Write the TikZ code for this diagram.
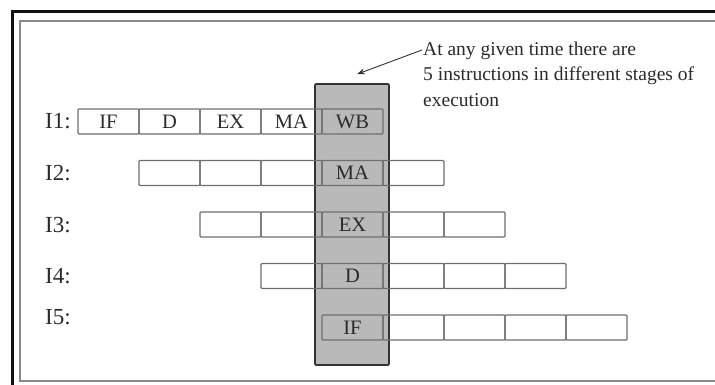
\documentclass[tikz,border=0pt]{standalone}
\usepackage{fontspec}
\setmainfont{Liberation Serif}
\usepackage{tikz}
\usetikzlibrary{arrows.meta,positioning,calc}
\definecolor{frameink}{HTML}{111111}
\definecolor{rimgray}{HTML}{8A8A8A}
\definecolor{cellink}{HTML}{6E6E6E}
\definecolor{colfill}{HTML}{B9B9B9}
\definecolor{colink}{HTML}{333333}
\definecolor{txtink}{HTML}{2A2A2A}
\tikzset{
  cell/.style={rectangle, rounded corners=1pt, draw=cellink, line width=1.2pt,
               minimum width=61pt, minimum height=25pt, inner sep=0pt,
               font=\fontsize{20.5}{20.5}\selectfont, text=txtink},
  nowcol/.style={rectangle, rounded corners=1pt, draw=colink, fill=colfill, line width=1.6pt,
                 minimum width=74pt, minimum height=281pt, inner sep=0pt},
  rowlbl/.style={anchor=west, inner sep=0pt, font=\fontsize{23}{23}\selectfont, text=txtink},
  note/.style={anchor=north west, inner sep=0pt, align=left, text=txtink,
               font=\fontsize{19.5}{25.5}\selectfont},
  pointer/.style={-{Stealth[length=8pt,width=6pt]}, draw=colink, line width=0.9pt}
}

\begin{document}
\begin{tikzpicture}[x=1pt,y=1pt]
  \useasboundingbox (0,0) rectangle (715,385);
  \clip (0,0) rectangle (715,385);
  % frames, running off the right and bottom edges
  \draw[frameink, line width=3pt] (12.5,-20) -- (12.5,373) -- (740,373);
  \draw[rimgray, line width=2pt] (740,4) -- (19.5,4) -- (19.5,364) -- (740,364);
  % the stage column
  \node[nowcol] (now) at (352,160.5) {};
  % pipeline rows
  \foreach \i in {1,...,5}{
    \foreach \s [count=\j] in {IF,D,EX,MA,WB}{
      \pgfmathtruncatemacro\k{\i+\j}
      \ifnum\i=1 \def\txt{\s}\else\ifnum\k=6 \def\txt{\s}\else\def\txt{}\fi\fi
      \node[cell] (c\i\j) at ({108.5+(\i+\j-2)*61}, {263.5-(\i-1)*51.5}) {\txt};
    }
  }
  \foreach \i/\dy in {1/0,2/0,3/-1,4/0,5/10}
    \node[rowlbl] (l\i) at (45, {263.5-(\i-1)*51.5+\dy}) {I\i:};
  % annotation
  \node[note] (txt) at (423,343.5) {At any given time there are\\5 instructions in different stages of\\execution};
  \draw[pointer] ($(txt.north west)+(-1,-8.5)$) -- ($(now.north)+(5,9)$);
\end{tikzpicture}
\end{document}
